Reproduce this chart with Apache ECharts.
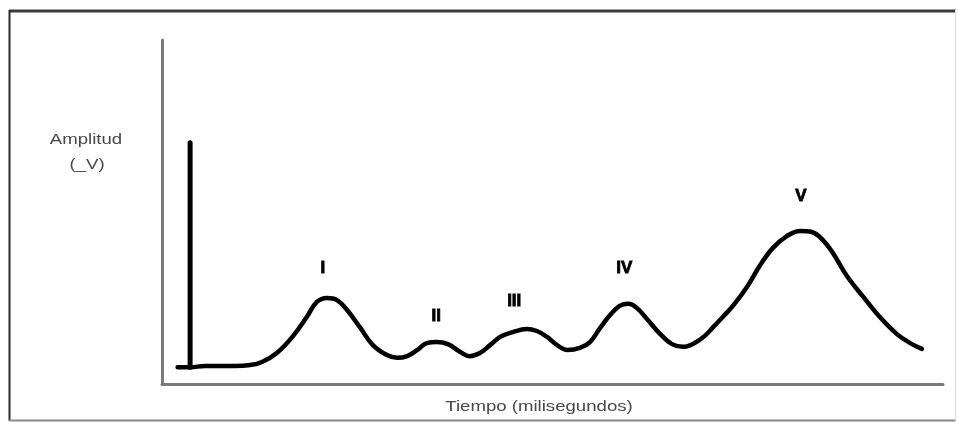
<!DOCTYPE html>
<html><head><meta charset="utf-8">
<script src="https://cdn.jsdelivr.net/npm/echarts@6/dist/echarts.min.js"></script>
<style>html,body{margin:0;padding:0;background:#fff}#c{width:958px;height:422px}</style>
</head><body><div id="c"></div>
<script>
// Time (ms) and amplitude (arbitrary units)
const waveTime = [0.20,0.36,0.55,0.74,0.93,1.13,1.28,1.47,1.68,1.86,1.98,2.11,2.24,2.37,2.54,2.70,2.88,3.01,3.14,3.27,3.39,3.52,3.66,3.82,3.94,4.07,4.20,4.33,4.49,4.67,4.80,4.93,5.06,5.19,5.35,5.48,5.61,5.74,5.86,5.97,6.08,6.21,6.38,6.53,6.67,6.82,6.95,7.06,7.18,7.31,7.49,7.66,7.82,8.00,8.17,8.32,8.46,8.59,8.77,8.98,9.19,9.41,9.58,9.73];
const waveAmp  = [0.49,0.49,0.52,0.52,0.52,0.55,0.64,0.90,1.40,1.97,2.38,2.50,2.44,2.15,1.63,1.13,0.84,0.76,0.81,0.99,1.19,1.22,1.16,0.93,0.81,0.90,1.13,1.37,1.51,1.60,1.54,1.37,1.13,0.99,1.05,1.22,1.63,2.01,2.27,2.33,2.21,1.89,1.45,1.16,1.08,1.19,1.40,1.66,1.95,2.27,2.82,3.46,3.95,4.30,4.45,4.42,4.19,3.81,3.14,2.53,1.95,1.45,1.19,1.02];
const spikeTime = [0.36, 0.36];
const spikeAmp  = [0.49, 7.01];
const peakNames = ['I', 'II', 'III', 'IV', 'V'];
const peakLabelTime = [2.06, 3.51, 4.51, 5.92, 8.18];
const peakLabelAmp  = [3.37, 1.98, 2.41, 3.37, 5.47];
const yTitleLines = ['Amplitud', '(_V)'];
const xTitle = 'Tiempo (milisegundos)';

const chart = echarts.init(document.getElementById('c'), null, {renderer: 'canvas'});
const wave = waveTime.map((t, i) => [t, waveAmp[i]]);
const spike = spikeTime.map((t, i) => [t, spikeAmp[i]]);
const peaks = peakNames.map((n, i) => ({name: n, value: [peakLabelTime[i], peakLabelAmp[i]]}));

const txtFont = '15px "Liberation Sans", Arial, sans-serif';
chart.setOption({
  animation: false,
  backgroundColor: '#ffffff',
  grid: {left: 162, top: 40, width: 781, height: 344},
  xAxis: {type: 'value', min: 0, max: 10,
    axisLine: {show: true, lineStyle: {color: '#7a7a7a', width: 3}},
    axisTick: {show: false}, axisLabel: {show: false}, splitLine: {show: false}},
  yAxis: {type: 'value', min: 0, max: 10,
    axisLine: {show: true, lineStyle: {color: '#7a7a7a', width: 3}},
    axisTick: {show: false}, axisLabel: {show: false}, splitLine: {show: false}},
  series: [
    {type: 'line', data: wave, smooth: 0.4, symbol: 'none',
      lineStyle: {color: '#000', width: 4.5, cap: 'round', join: 'round'}},
    {type: 'line', data: spike, symbol: 'none',
      lineStyle: {color: '#000', width: 5, cap: 'round'}},
    {type: 'scatter', data: peaks, symbolSize: 1, itemStyle: {color: 'transparent', opacity: 1},
      label: {show: true, position: 'inside', formatter: '{b}', color: '#000', opacity: 1,
        textBorderColor: '#000', textBorderWidth: 0.8,
        fontWeight: 'bold', fontSize: 17, fontFamily: '"Liberation Sans", Arial, sans-serif'}}
  ],
  graphic: [
    {type: 'line', shape: {x1: 9, y1: 11, x2: 956, y2: 11}, style: {stroke: '#3a3a3a', lineWidth: 3}},
    {type: 'line', shape: {x1: 9.5, y1: 10, x2: 9.5, y2: 421}, style: {stroke: '#2a2a2a', lineWidth: 2}},
    {type: 'line', shape: {x1: 9, y1: 420.5, x2: 956, y2: 420.5}, style: {stroke: '#888', lineWidth: 2}},
    {type: 'line', shape: {x1: 955.5, y1: 10, x2: 955.5, y2: 421}, style: {stroke: '#ddd', lineWidth: 1}},
    {type: 'text', x: 86, y: 140, scaleX: 1.24,
      style: {text: yTitleLines[0], font: txtFont, fill: '#484848', align: 'center', verticalAlign: 'middle'}},
    {type: 'text', x: 87, y: 165, scaleX: 1.24,
      style: {text: yTitleLines[1], font: txtFont, fill: '#484848', align: 'center', verticalAlign: 'middle'}},
    {type: 'text', x: 539, y: 407, scaleX: 1.24,
      style: {text: xTitle, font: txtFont, fill: '#484848', align: 'center', verticalAlign: 'middle'}}
  ]
});
</script>
</body></html>
